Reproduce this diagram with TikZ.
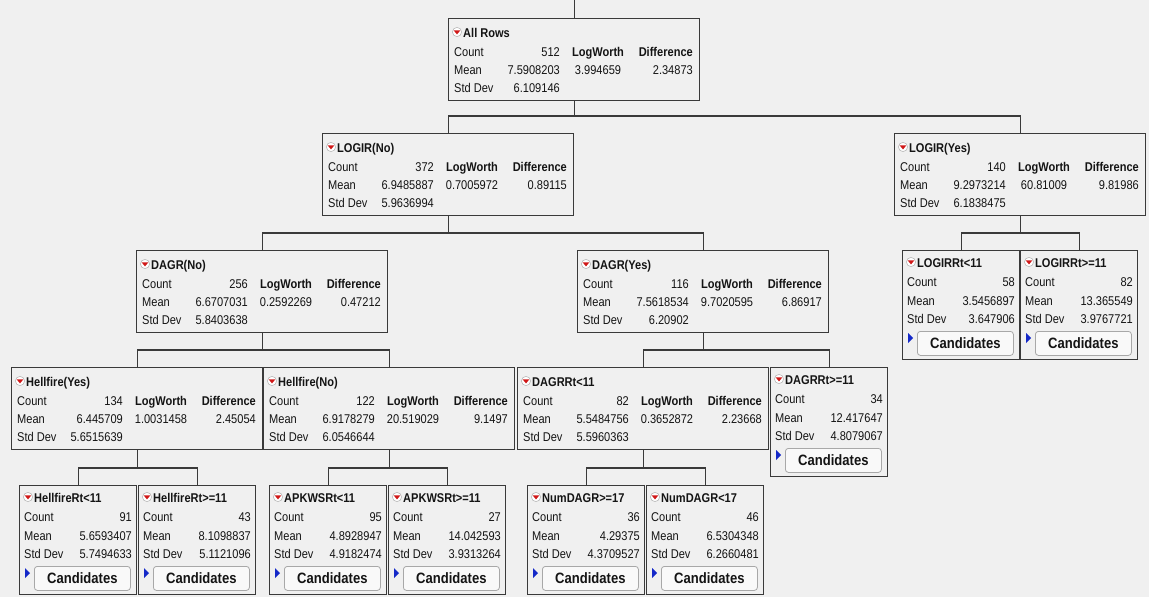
\documentclass[tikz,border=0pt]{standalone}
\usepackage{fontspec}
\setmainfont[FakeStretch=0.87]{Liberation Sans}
\usetikzlibrary{calc}
\definecolor{bg}{HTML}{F0F0F0}
\definecolor{boxline}{HTML}{3A3A3A}
\definecolor{btnline}{HTML}{A8A8A8}
\definecolor{btnfill}{HTML}{F9F9F9}
\definecolor{icred}{HTML}{D01818}
\definecolor{icblue}{HTML}{1428C8}
\tikzset{
  box/.style={draw=boxline, line width=1.3pt, fill=bg, inner sep=0pt, anchor=north west},
  edge/.style={draw=boxline, line width=1.3pt},
  txt/.style={inner sep=0pt, font=\fontsize{12.7}{14}\selectfont, text=black!92},
  ttl/.style={inner sep=0pt, font=\fontsize{12.7}{14}\selectfont\bfseries, text=black!92, anchor=base west},
  hdr/.style={inner sep=0pt, font=\fontsize{12.7}{14}\selectfont\bfseries, text=black!92},
  btn/.style={draw=btnline, fill=btnfill, rounded corners=3pt, line width=0.8pt, inner sep=0pt,
              anchor=north west, font=\fontsize{15}{17}\selectfont\bfseries, text=black!92},
}
\newcommand\ricon[2]{%
  \filldraw[fill=white, draw=gray!55, line width=0.6pt] ({#1},{#2}) circle[radius=4.6pt];
  \fill[icred] ({#1-3.3},{#2-1.6}) -- ({#1+3.3},{#2-1.6}) -- ({#1},{#2+2.4}) -- cycle;}
\newcommand\bigbox[9]{%
  \node[box, minimum width=251pt, minimum height=82pt] (#1) at (#2,#3) {};
  \ricon{#2+9}{#3+14}
  \node[ttl] (#1-t) at ({#2+15},{#3+19}) {#4};
  \node[txt, anchor=base west] (#1-cl) at ({#2+6},{#3+38}) {Count};
  \node[txt, anchor=base east] (#1-cv) at ({#2+112},{#3+38}) {#5};
  \node[hdr, anchor=base] (#1-lh) at ({#2+150},{#3+38}) {LogWorth};
  \node[hdr, anchor=base east] (#1-dh) at ({#2+245},{#3+38}) {Difference};
  \node[txt, anchor=base west] (#1-ml) at ({#2+6},{#3+56}) {Mean};
  \node[txt, anchor=base east] (#1-mv) at ({#2+112},{#3+56}) {#6};
  \node[txt, anchor=base] (#1-lv) at ({#2+150},{#3+56}) {#8};
  \node[txt, anchor=base east] (#1-dv) at ({#2+245},{#3+56}) {#9};
  \node[txt, anchor=base west] (#1-sl) at ({#2+6},{#3+74}) {Std Dev};
  \node[txt, anchor=base east] (#1-sv) at ({#2+112},{#3+74}) {#7};
}
\newcommand\leafbox[7]{%
  \node[box, minimum width=117pt, minimum height=109pt] (#1) at (#2,#3) {};
  \ricon{#2+9}{#3+12}
  \node[ttl] (#1-t) at ({#2+15},{#3+17}) {#4};
  \node[txt, anchor=base west] (#1-cl) at ({#2+5},{#3+36}) {Count};
  \node[txt, anchor=base east] (#1-cv) at ({#2+113},{#3+36}) {#5};
  \node[txt, anchor=base west] (#1-ml) at ({#2+5},{#3+55}) {Mean};
  \node[txt, anchor=base east] (#1-mv) at ({#2+113},{#3+55}) {#6};
  \node[txt, anchor=base west] (#1-sl) at ({#2+5},{#3+73}) {Std Dev};
  \node[txt, anchor=base east] (#1-sv) at ({#2+113},{#3+73}) {#7};
  \fill[icblue] ({#2+6},{#3+83}) -- ({#2+11},{#3+88}) -- ({#2+6},{#3+93}) -- cycle;
  \node[btn, minimum width=96pt, minimum height=24pt] (#1-b) at ({#2+15},{#3+81}) {Candidates};
}
\newcommand\tedge[3]{%
  \path (#2.north) ++(0,-17) coordinate (#1-busl);
  \path (#3.north) ++(0,-17) coordinate (#1-busr);
  \draw[edge] (#1.south) -- (#1.south |- #1-busl);
  \draw[edge] (#2.north) -- (#1-busl) -- (#1-busr) -- (#3.north);
}
\begin{document}
\begin{tikzpicture}[x=1pt, y=-1pt]
\useasboundingbox (0,0) rectangle (1149,597);
\fill[bg] (0,0) rectangle (1149,597);
\coordinate (topend) at (0,0);
% level 0
\bigbox{root}{448}{18}{All Rows}{512}{7.5908203}{6.109146}{3.994659}{2.34873}
% level 1
\bigbox{lno}{322}{133}{LOGIR(No)}{372}{6.9485887}{5.9636994}{0.7005972}{0.89115}
\bigbox{lyes}{894}{133}{LOGIR(Yes)}{140}{9.2973214}{6.1838475}{60.81009}{9.81986}
% level 2
\bigbox{dno}{136}{250}{DAGR(No)}{256}{6.6707031}{5.8403638}{0.2592269}{0.47212}
\bigbox{dyes}{577}{250}{DAGR(Yes)}{116}{7.5618534}{6.20902}{9.7020595}{6.86917}
\leafbox{lr1}{902}{250}{LOGIRRt<11}{58}{3.5456897}{3.647906}
\leafbox{lr2}{1020}{250}{LOGIRRt>=11}{82}{13.365549}{3.9767721}
% level 3
\bigbox{hyes}{11}{367}{Hellfire(Yes)}{134}{6.445709}{5.6515639}{1.0031458}{2.45054}
\bigbox{hno}{263}{367}{Hellfire(No)}{122}{6.9178279}{6.0546644}{20.519029}{9.1497}
\bigbox{dr1}{517}{367}{DAGRRt<11}{82}{5.5484756}{5.5960363}{0.3652872}{2.23668}
\leafbox{dr2}{770}{367}{DAGRRt>=11}{34}{12.417647}{4.8079067}
% level 4
\leafbox{hr1}{19}{485}{HellfireRt<11}{91}{5.6593407}{5.7494633}
\leafbox{hr2}{138}{485}{HellfireRt>=11}{43}{8.1098837}{5.1121096}
\leafbox{ar1}{269}{485}{APKWSRt<11}{95}{4.8928947}{4.9182474}
\leafbox{ar2}{388}{485}{APKWSRt>=11}{27}{14.042593}{3.9313264}
\leafbox{nd1}{527}{485}{NumDAGR>=17}{36}{4.29375}{4.3709527}
\leafbox{nd2}{646}{485}{NumDAGR<17}{46}{6.5304348}{6.2660481}
% connectors
\draw[edge] (root.north) -- (root.north |- topend);
\tedge{root}{lno}{lyes}
\tedge{lno}{dno}{dyes}
\tedge{lyes}{lr1}{lr2}
\tedge{dno}{hyes}{hno}
\tedge{dyes}{dr1}{dr2}
\tedge{hyes}{hr1}{hr2}
\tedge{hno}{ar1}{ar2}
\tedge{dr1}{nd1}{nd2}
\end{tikzpicture}
\end{document}
